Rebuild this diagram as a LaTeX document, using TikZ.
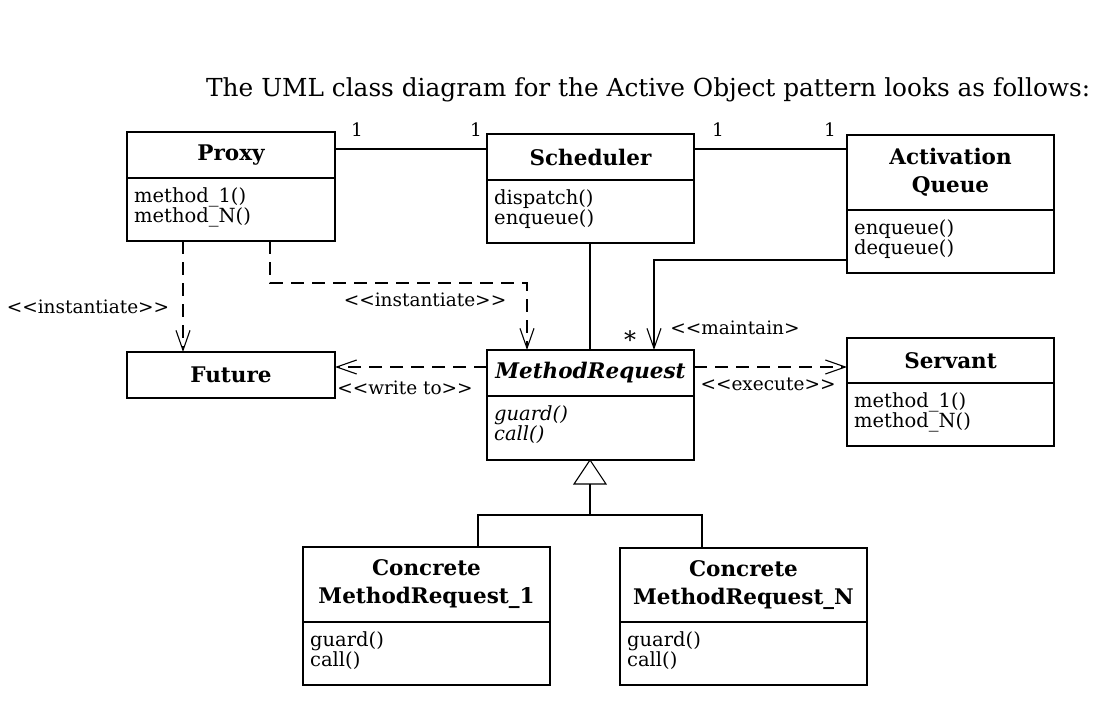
\documentclass[tikz,border=0pt]{standalone}
\usepackage{fontspec}
\setmainfont{DejaVu Serif}
\usetikzlibrary{arrows.meta}
\tikzset{
  box/.style={draw,line width=1.1pt},
  conn/.style={line width=1.1pt},
  dep/.style={conn,dash pattern=on 13pt off 8pt},
  openarrow/.style={-{Straight Barb[length=20pt,width=14pt,line width=1.1pt]}},
  lbl/.style={font=\fontsize{18.5}{21}\selectfont},
}
\newcommand{\umlclass}[8]{%
  \draw[box] (#2,#3) rectangle (#4,#5);
  \draw[box] (#2,#6) -- (#4,#6);
  \coordinate (#1) at ({(#2+#4)/2},{(#3+#5)/2});
  \node[font=\fontsize{21.5}{26}\selectfont\bfseries,align=center,inner sep=0] (#1t) at ({(#2+#4)/2},{(#3+#6)/2}) {#7};
  \node[font=\fontsize{19.5}{20}\selectfont,align=left,anchor=north west,inner sep=0] (#1o) at (#2+7,#6+9) {#8};
}
\begin{document}
\begin{tikzpicture}[x=1pt,y=-1pt]
\useasboundingbox (0,0) rectangle (1111,709);
\node[font=\fontsize{24.8}{28}\selectfont,anchor=west,inner sep=0] (title) at (206,90) {The UML class diagram for the Active Object pattern looks as follows:};
\umlclass{proxy}{127}{132}{335}{241}{178}{Proxy}{method\_1()\\method\_N()}
\umlclass{sched}{487}{134}{694}{243}{180}{Scheduler}{dispatch()\\enqueue()}
\umlclass{aq}{847}{135}{1054}{273}{210}{Activation\\[2pt]Queue}{enqueue()\\dequeue()}
\draw[box] (127,352) rectangle (335,398);
\node[font=\fontsize{21.5}{26}\selectfont\bfseries] (future) at (231,375) {Future};
\umlclass{mr}{487}{350}{694}{460}{396}{\itshape MethodRequest}{\itshape guard()\\\itshape call()}
\umlclass{serv}{847}{338}{1054}{446}{383}{Servant}{method\_1()\\method\_N()}
\umlclass{c1}{303}{547}{550}{685}{622}{Concrete\\[2pt]MethodRequest\_1}{guard()\\call()}
\umlclass{cn}{620}{548}{867}{685}{622}{Concrete\\[2pt]MethodRequest\_N}{guard()\\call()}
% associations
\draw[conn] (335,149) -- (487,149);
\node[lbl] (m1) at (357,130) {1};
\node[lbl] (m2) at (476,130) {1};
\draw[conn] (694,149) -- (847,149);
\node[lbl] (m3) at (718,130) {1};
\node[lbl] (m4) at (830,130) {1};
\draw[conn] (590,243) -- (590,350);
\draw[conn,openarrow] (847,260) -- (654,260) -- (654,350);
\node[font=\fontsize{24}{24}\selectfont] (star) at (630,340) {*};
\node[lbl] (lm) at (735,328) {<{}<maintain>};
% dependencies
\draw[dep,openarrow] (183,241) -- (183,352);
\node[lbl] (li1) at (88,307) {<{}<instantiate>{}>};
\draw[dep,openarrow] (270,241) -- (270,283) -- (527,283) -- (527,350);
\node[lbl] (li2) at (425,300) {<{}<instantiate>{}>};
\draw[dep,openarrow] (487,367) -- (335,367);
\node[lbl] (lw) at (405,388) {<{}<write to>{}>};
\draw[dep,openarrow] (694,367) -- (847,367);
\node[lbl] (le) at (768,384) {<{}<execute>{}>};
% inheritance
\draw[conn] (590,460) -- (606,484) -- (574,484) -- cycle;
\draw[conn] (590,484) -- (590,515);
\draw[conn] (478,547) -- (478,515) -- (702,515) -- (702,548);
\end{tikzpicture}
\end{document}
